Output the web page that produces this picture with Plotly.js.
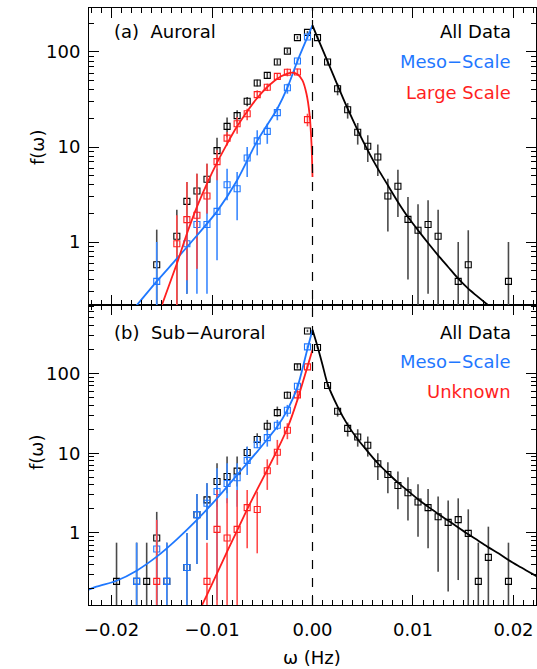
<!DOCTYPE html>
<html>
<head>
<meta charset="utf-8">
<script src="https://cdn.plot.ly/plotly-3.0.1.min.js"></script>
<style>html,body{margin:0;padding:0;background:#fff;}#chart{width:537px;height:669px;}</style>
</head>
<body>
<div id="chart"></div>
<script>
// ---------- Panel (a) Auroral ----------
const aAllX = [-0.0155,-0.0135,-0.0125,-0.0115,-0.0105,-0.0095,-0.0085,-0.0075,-0.0065,-0.0055,-0.0045,-0.0035,-0.0025,-0.0015,-0.0005,
               0.0005,0.0015,0.0025,0.0035,0.0045,0.0055,0.0065,0.0075,0.0085,0.0095,0.0105,0.0115,0.0125,0.0145,0.0155,0.0195];
const aAllY = [0.577,1.15,2.68,3.44,4.57,9.15,16.5,21.4,30.3,47.2,56.8,78.5,102,141.6,161,
               141.6,78.5,41.1,24.7,14.3,10.2,7.85,3.05,3.86,1.73,1.33,1.53,1.15,0.385,0.577,0.385];
const aAllHi = [1.35,2.19,4.28,5.24,6.68,12.5,20.4,24.3,33.6,51.1,61.6,83.7,108,147,166,
                147,83,46.4,29,17.9,13.3,10.6,4.64,5.77,2.98,2.49,2.75,2.19,1.0,1.33,1.0];
const aAllLo = [0.01,0.01,0.286,0.524,2.0,6.68,12.7,17.6,26.8,43.5,52.4,73.6,97.6,136,156,
                136,73.6,35,19.9,10.6,6.95,4.95,1.29,1.83,0.402,0.01,0.286,0.01,0.01,0.01,0.01];

const aMesoX = [-0.0155,-0.0125,-0.0115,-0.0105,-0.0095,-0.0085,-0.0075,-0.0065,-0.0055,-0.0045,-0.0035,-0.0025,-0.0015,-0.0005];
const aMesoY = [0.385,0.96,1.53,1.53,2.1,4.01,3.64,7.66,11.6,14.6,23,42.1,80.4,144];
const aMesoHi = [1.0,1.91,2.75,2.75,5.92,5.92,5.46,10,15,17.6,26.4,46.4,85.1,152];
const aMesoLo = [0.01,0.286,0.286,0.286,0.641,2.75,1.69,4.83,8.17,10.8,19.1,36.4,75.4,136];

const aLargeX = [-0.0135,-0.0125,-0.0115,-0.0105,-0.0095,-0.0085,-0.0075,-0.0065,-0.0055,-0.0045,-0.0035,-0.0025,-0.0015,-0.0005];
const aLargeY = [0.96,1.72,1.91,3.05,7.01,12.4,17.6,22.4,35.6,42.5,55.4,61.1,61.6,19.4];
const aLargeHi = [1.91,4.28,5.24,6.68,9.23,14.4,20.7,25.3,39.5,46.4,59.1,66.8,66.8,22.4];
const aLargeLo = [0.01,0.395,0.524,1.99,4.46,10.4,13.8,19.1,32.3,38.8,51.1,55.4,56.8,16.5];

const aMesoFitX = [-0.019,-0.0175,-0.0155,-0.0135,-0.0115,-0.0095,-0.0075,-0.0055,-0.0035,-0.0025,-0.0015,-0.0005,0];
const aMesoFitY = [0.14,0.215,0.385,0.668,1.17,2.10,4.46,11.6,25.3,42.1,80.4,144,191];
const aLargeFitX = [-0.0155,-0.015,-0.0135,-0.0125,-0.0115,-0.0105,-0.0095,-0.0085,-0.0075,-0.0065,-0.0055,-0.0045,-0.0035,-0.0025,-0.002,-0.0015,-0.001,-0.0006,-0.0003,-0.0001,0];
const aLargeFitY = [0.15,0.215,0.59,1.22,2.34,4.11,6.84,10.8,16.5,23.7,32.8,42.8,52.4,59.1,60.6,58.2,50.3,36.4,22.4,10.8,4.83];
const aAllFitX = [0,0.0005,0.0015,0.0025,0.0035,0.0045,0.0055,0.0065,0.0075,0.0085,0.0095,0.0105,0.0115,0.0125,0.0135,0.0145,0.0155,0.0175,0.019];
const aAllFitY = [191,141.6,79.8,44.6,25.3,15.0,9.23,5.92,3.95,2.64,1.83,1.33,0.976,0.724,0.546,0.411,0.323,0.215,0.16];

// ---------- Panel (b) Sub-Auroral ----------
const bAllX = [-0.0195,-0.0175,-0.0165,-0.0155,-0.0145,-0.0125,-0.0115,-0.0105,-0.0095,-0.0085,-0.0075,-0.0065,-0.0055,-0.0045,-0.0035,-0.0025,-0.0015,-0.0005,
               0.0005,0.0015,0.0025,0.0035,0.0045,0.0055,0.0065,0.0075,0.0085,0.0095,0.0105,0.0115,0.0125,0.0135,0.0145,0.0155,0.0165,0.0175,0.0195];
const bAllY = [0.247,0.247,0.247,0.865,0.247,0.37,1.70,2.6,4.42,5.11,5.97,10.2,14.9,21.8,32.3,53.4,121,341,
               212,70.6,33.6,20.5,16,12.6,7.38,5.42,3.94,3.19,2.45,2.08,1.6,1.36,1.47,0.99,0.247,0.494,0.247];
const bAllHi = [0.756,0.756,0.756,1.84,0.756,1.0,3.09,4.2,7.49,9.08,9.08,12.1,17.8,26.2,38.5,59.4,132,355,
                220,74,36.7,24.3,20,16.2,10,7.71,5.89,5.0,4.08,3.57,2.86,2.55,2.72,1.98,0.756,1.2,0.756];
const bAllLo = [0.01,0.01,0.01,0.01,0.01,0.01,0.408,0.817,2.14,3.15,3.82,8.25,12.7,18.7,28.8,49,115,330,
                205,67,28.8,16.2,12.1,9.08,4.62,3.15,1.98,1.43,0.9,0.642,0.327,0.184,0.257,0.01,0.01,0.01,0.01];

const bMesoX = [-0.0175,-0.0155,-0.0145,-0.0125,-0.0115,-0.0105,-0.0095,-0.0085,-0.0075,-0.0065,-0.0055,-0.0045,-0.0035,-0.0025,-0.0015,-0.0005];
const bMesoY = [0.247,0.629,0.247,0.37,1.70,2.36,3.31,4.17,4.92,8.13,12.8,15.7,22.4,34.6,69.3,216];
const bMesoHi = [0.756,1.46,0.756,1.0,3.09,4.2,6.48,7.49,7.49,12.1,16.2,19.6,26.2,40.4,75.6,225];
const bMesoLo = [0.01,0.01,0.01,0.01,0.408,0.817,0.144,2.36,2.14,5.35,11.6,12.1,19.6,28.8,65.5,207];

const bUnkX = [-0.0155,-0.0105,-0.0095,-0.0085,-0.0075,-0.0065,-0.0055,-0.0045,-0.0035,-0.0025,-0.0015,-0.0005];
const bUnkY = [0.247,0.247,1.11,0.865,1.11,2.08,1.97,6.03,10.3,19.4,53.9,121];
const bUnkHi = [1.46,0.756,3.47,2.72,3.47,3.47,3.3,8.4,14.7,23.8,62.4,127];
const bUnkLo = [0.01,0.01,0.01,0.01,0.01,0.642,0.556,3.47,7.14,15,46.7,115];

const bMesoFitX = [-0.0232,-0.0215,-0.0195,-0.0175,-0.0155,-0.0135,-0.0115,-0.0095,-0.0075,-0.0055,-0.0045,-0.0035,-0.0025,-0.0015,-0.0005,0];
const bMesoFitY = [0.175,0.212,0.252,0.337,0.505,0.833,1.46,2.72,5.35,10.5,15.0,21.6,35.0,67.4,205,353];
const bUnkFitX = [-0.0112,-0.0105,-0.0095,-0.0085,-0.0075,-0.0065,-0.0055,-0.0045,-0.0035,-0.0025,-0.0015,-0.0005,0];
const bUnkFitY = [0.11,0.167,0.312,0.583,1.07,1.98,3.53,6.18,11.0,20.6,46.7,122,198];
const bAllFitX = [0,0.0005,0.001,0.0015,0.0025,0.0035,0.0045,0.0055,0.0065,0.0075,0.0085,0.0095,0.0105,0.0115,0.0125,0.0135,0.0145,0.0155,0.0165,0.0175,0.0185,0.0195,0.0205,0.0215,0.0225];
const bAllFitY = [353,218,128,74.2,38.5,22.7,15.0,10.5,7.49,5.61,4.28,3.37,2.65,2.14,1.73,1.43,1.17,0.962,0.80,0.66,0.556,0.458,0.385,0.327,0.278];

// ---------- styling ----------
const BLACK = '#000000', BLUE = '#1f78ff', RED = '#ff1f1f';
const BAR_BLACK = '#4a4a4a', BAR_BLUE = '#3a88ff', BAR_RED = '#ff4a4a';
const FONT = 'DejaVu Sans ExtraLight, DejaVu Sans, Liberation Sans, sans-serif';

function pts(x, y, hi, lo, color, barColor, xa, ya) {
  return {
    x: x, y: y, xaxis: xa, yaxis: ya, type: 'scatter', mode: 'markers',
    marker: {symbol: 'square-open', size: 6, color: color, line: {width: 1.1, color: color}},
    error_y: {type: 'data', symmetric: false,
      array: hi.map((h, i) => Math.max(h - y[i], 0)),
      arrayminus: lo.map((l, i) => Math.max(y[i] - l, 0)),
      color: barColor, thickness: 1.6, width: 0},
    showlegend: false, hoverinfo: 'skip', cliponaxis: true
  };
}
function fit(x, y, color, xa, ya) {
  return {x: x, y: y, xaxis: xa, yaxis: ya, type: 'scatter', mode: 'lines',
    line: {color: color, width: 1.8, shape: 'spline', smoothing: 0.7},
    showlegend: false, hoverinfo: 'skip'};
}

const data = [
  pts(aAllX, aAllY, aAllHi, aAllLo, BLACK, BAR_BLACK, 'x2', 'y'),
  pts(aMesoX, aMesoY, aMesoHi, aMesoLo, BLUE, BAR_BLUE, 'x2', 'y'),
  pts(aLargeX, aLargeY, aLargeHi, aLargeLo, RED, BAR_RED, 'x2', 'y'),
  fit(aMesoFitX, aMesoFitY, BLUE, 'x2', 'y'),
  fit(aLargeFitX, aLargeFitY, RED, 'x2', 'y'),
  fit(aAllFitX, aAllFitY, BLACK, 'x2', 'y'),
  pts(bAllX, bAllY, bAllHi, bAllLo, BLACK, BAR_BLACK, 'x', 'y2'),
  pts(bMesoX, bMesoY, bMesoHi, bMesoLo, BLUE, BAR_BLUE, 'x', 'y2'),
  pts(bUnkX, bUnkY, bUnkHi, bUnkLo, RED, BAR_RED, 'x', 'y2'),
  fit(bMesoFitX, bMesoFitY, BLUE, 'x', 'y2'),
  fit(bUnkFitX, bUnkFitY, RED, 'x', 'y2'),
  fit(bAllFitX, bAllFitY, BLACK, 'x', 'y2')
];

const xCommon = {
  range: [-0.02224, 0.02224], tick0: 0, dtick: 0.01, tickformat: '.2f',
  ticks: 'inside', ticklen: 10, tickwidth: 1, tickcolor: '#000',
  showline: true, linecolor: '#000', linewidth: 1, mirror: 'ticks',
  showgrid: false, zeroline: false,
  minor: {dtick: 0.001, ticks: 'inside', ticklen: 5, tickcolor: '#000', showgrid: false},
  tickfont: {family: FONT, size: 18, color: '#000'}
};
const yCommon = {
  type: 'log', dtick: 1, tick0: 0,
  ticks: 'inside', ticklen: 10, tickwidth: 1, tickcolor: '#000',
  showline: true, linecolor: '#000', linewidth: 1, mirror: 'ticks',
  showgrid: false, zeroline: false,
  minor: {dtick: 'D1', ticks: 'inside', ticklen: 5, tickcolor: '#000', showgrid: false},
  tickfont: {family: FONT, size: 18, color: '#000'},
  ticklabelstandoff: 4
};

function ann(text, x, y, color, xanchor, extra) {
  return Object.assign({text: text, x: x, y: y, xref: 'paper', yref: 'paper',
    xanchor: xanchor, yanchor: 'middle', showarrow: false,
    font: {family: FONT, size: 18, color: color}}, extra || {});
}
const W = 447, X0 = 89, YB = 605, H = 597;
const px = v => (v - X0) / W, py = v => (YB - v) / H;

const layout = {
  width: 537, height: 669,
  margin: {l: 89, r: 1, t: 8, b: 64},
  paper_bgcolor: '#fff', plot_bgcolor: '#fff',
  showlegend: false,
  xaxis: Object.assign({}, xCommon, {anchor: 'y2', domain: [0, 1], ticklabelstandoff: 8}),
  xaxis2: Object.assign({}, xCommon, {anchor: 'y', domain: [0, 1], matches: 'x', showticklabels: false}),
  yaxis: Object.assign({}, yCommon, {anchor: 'x2', domain: [0.5025, 1], range: [-0.663, 2.463]}),
  yaxis2: Object.assign({}, yCommon, {anchor: 'x', domain: [0, 0.5025], range: [-0.903, 2.859]}),
  shapes: [{type: 'line', xref: 'x', yref: 'paper', x0: 0, x1: 0, y0: 0, y1: 1,
            line: {color: '#000', width: 1.2, dash: 'dash'}}],
  annotations: [
    ann('(a)  Auroral', px(112), py(32), '#000', 'left'),
    ann('All Data', px(513), py(32), '#000', 'right'),
    ann('Meso\u2212Scale', px(513), py(62), BLUE, 'right'),
    ann('Large Scale', px(513), py(92), RED, 'right'),
    ann('(b)  Sub\u2212Auroral', px(112), py(332), '#000', 'left'),
    ann('All Data', px(513), py(332), '#000', 'right'),
    ann('Meso\u2212Scale', px(513), py(361), BLUE, 'right'),
    ann('Unknown', px(513), py(391), RED, 'right'),
    ann('f(\u03c9)', px(37), py(148), '#000', 'center', {textangle: -90}),
    ann('f(\u03c9)', px(37), py(453), '#000', 'center', {textangle: -90}),
    ann('\u03c9 (Hz)', px(312), py(657), '#000', 'center')
  ]
};

Plotly.newPlot('chart', data, layout, {staticPlot: true, displayModeBar: false});
</script>
</body>
</html>
